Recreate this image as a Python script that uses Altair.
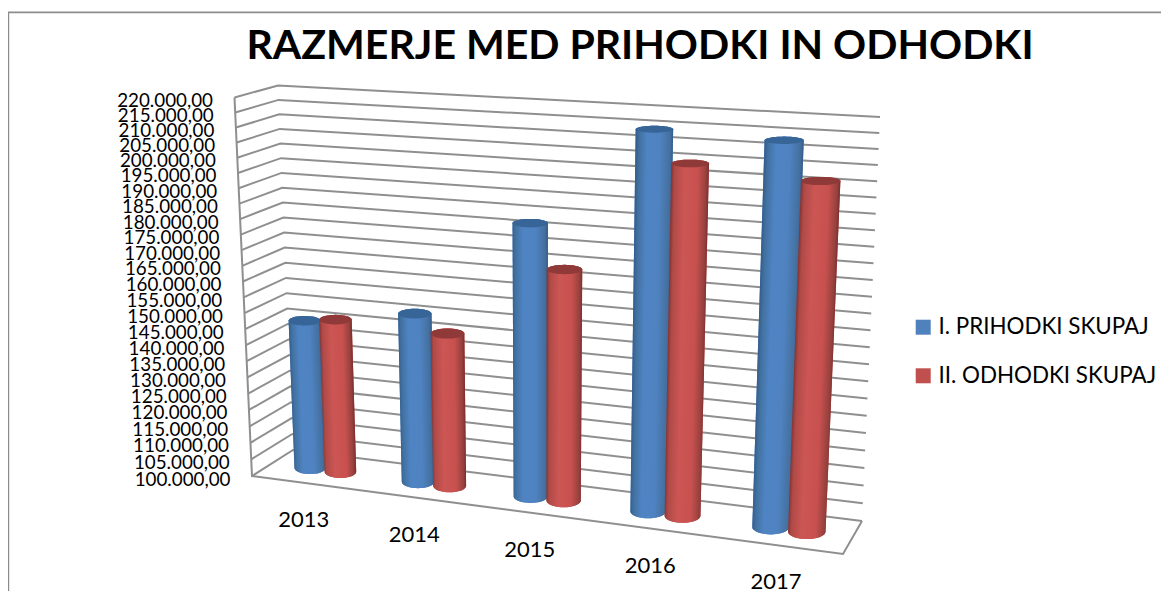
import math
import altair as alt
import pandas as pd

years = ["2013", "2014", "2015", "2016", "2017"]
prihodki = [145600, 151200, 182700, 215000, 213900]
odhodki = [146900, 146000, 169100, 204900, 202100]
series_names = ["I. PRIHODKI SKUPAJ", "II. ODHODKI SKUPAJ"]
title_text = "RAZMERJE MED PRIHODKI IN ODHODKI"
tick_values = list(range(100000, 225000, 5000))
series_colors = ["#4f81bd", "#c0504d"]
cap_colors = ["#386597", "#8f3a38"]
stops = [
    [(0, "#355f90"), (.08, "#41719f"), (.3, "#4f84c4"), (.65, "#4f82c0"), (.92, "#44709f"), (1, "#365c8c")],
    [(0, "#8a3735"), (.08, "#b04a47"), (.35, "#cc5654"), (.7, "#c8514f"), (.93, "#95403d"), (1, "#7a2f2e")],
]
W, H = 1153, 583

# 3-D box as seen by the camera: (back/front, left/right, bottom/top)
BLT, BLB, BRT, BRB = (278, 85.5), (293, 450), (880, 117), (862, 521)
FLT, FLB, FRT, FRB = (234.5, 97.5), (252, 476), (863, 134), (843, 554)
KV, KU = -0.0538, 0.1128


def tf(v):
    s = (v - 100000) / 120000
    return s / (1 + KV * (1 - s))


def uf(p):
    return p / (1 + KU * (1 - p))


def lerp(a, b, t):
    return (a[0] + (b[0] - a[0]) * t, a[1] + (b[1] - a[1]) * t)


def proj(p, w, v):
    u, t = uf(p), tf(v)
    bot = lerp(lerp(BLB, BRB, u), lerp(FLB, FRB, u), w)
    top = lerp(lerp(BLT, BRT, u), lerp(FLT, FRT, u), w)
    return lerp(bot, top, t)


def ellipse_rows(cx, cy, rx, ry, a0, a1, n=10):
    rows = []
    for i in range(n + 1):
        a = a0 + (a1 - a0) * i / n
        y = cy + ry * math.sin(a)
        hw = rx * math.cos(a)
        rows.append((y, cx - hw, cx + hw))
    return rows


def cylinder(c, k, v):
    p = (c + .5) / 5 + (-1 if k == 0 else 1) * .0285
    rp = .0295
    bl, br = proj(p - rp, .5, 100000), proj(p + rp, .5, 100000)
    tl, tr = proj(p - rp, .5, v), proj(p + rp, .5, v)
    bcx, bcy, brx = (bl[0] + br[0]) / 2, (bl[1] + br[1]) / 2, (br[0] - bl[0]) / 2
    tcx, tcy, trx = (tl[0] + tr[0]) / 2, (tl[1] + tr[1]) / 2, (tr[0] - tl[0]) / 2
    bry = brx * .40
    t = tf(v)
    try_ = trx * (.38 - .2 * t)
    body = ellipse_rows(tcx, tcy, trx, try_, -math.pi / 2, 0)
    body += ellipse_rows(bcx, bcy, brx, bry, 0, math.pi / 2)
    cap = ellipse_rows(tcx, tcy, trx, try_, -math.pi / 2, math.pi / 2, 20)
    a = (tcx - bcx) / (2 * max(trx, brx) + abs(tcx - bcx))
    return body, cap, a


XS = alt.Scale(domain=[8, 8 + W], range=[0, W], nice=False, zero=False)
YS = alt.Scale(domain=[8, 8 + H], range=[0, H], nice=False, zero=False)
X = alt.X("x:Q", scale=XS, axis=None)
Y = alt.Y("y:Q", scale=YS, axis=None)
FONT = "Lato"

# frame of the picture
frame = alt.Chart(pd.DataFrame({"x": [8.4, 8.4, 8 + W], "y": [8 + H, 12.4, 12.4], "o": [0, 1, 2]})).mark_line(
    color="#8c8c8c", strokeWidth=1.6).encode(x=X, y=Y, order="o:Q")

# walls and floor of the 3-D box
grid_rows = []
for i, v in enumerate(tick_values):
    for o, pt in enumerate([proj(0, 1, v), proj(0, 0, v), proj(1, 0, v)]):
        grid_rows.append({"x": pt[0], "y": pt[1], "g": f"g{i}", "o": o})
for o, pt in enumerate([proj(0, 1, 220000), proj(0, 1, 100000), proj(1, 1, 100000), proj(1, 0, 100000)]):
    grid_rows.append({"x": pt[0], "y": pt[1], "g": "edge", "o": o})
grid = alt.Chart(pd.DataFrame(grid_rows)).mark_line(color="#8f8f8f", strokeWidth=2).encode(
    x=X, y=Y, detail="g:N", order="o:Q")

# flat bodies carry the legend
flat_rows, layers = [], []
for c, yr in enumerate(years):
    for k, v in enumerate([prihodki[c], odhodki[c]]):
        body, cap, a = cylinder(c, k, v)
        for o, (y, x1, x2) in enumerate(body):
            flat_rows.append({"y": y, "x": x1, "x2": x2, "s": series_names[k], "cyl": f"{yr}{k}", "o": o})
        if a >= 0:
            p1 = (a, 0.0)
        else:
            p1 = (0.0, 0.0)
        lam = (1 - abs(a)) / (1 + a * a)
        grad = alt.LinearGradient(
            gradient="linear",
            stops=[alt.GradientStop(offset=o, color=col) for o, col in stops[k]],
            x1=p1[0], y1=p1[1], x2=p1[0] + lam, y2=p1[1] + lam * a,
        )
        df_b = pd.DataFrame(body, columns=["y", "x", "x2"])
        df_c = pd.DataFrame(cap, columns=["y", "x", "x2"])
        layers.append(alt.Chart(df_b).mark_area(orient="horizontal", fill=grad, interpolate="linear").encode(
            x=X, x2="x2:Q", y=Y))
        layers.append(alt.Chart(df_c).mark_area(orient="horizontal", color=cap_colors[k], interpolate="linear").encode(
            x=X, x2="x2:Q", y=Y))

flat = alt.Chart(pd.DataFrame(flat_rows)).mark_area(orient="horizontal").encode(
    x=X, x2="x2:Q", y=Y, detail="cyl:N",
    color=alt.Color("s:N", scale=alt.Scale(domain=series_names, range=series_colors),
                    legend=alt.Legend(title=None, orient="none", legendX=904, legendY=308, symbolType="square",
                                      symbolSize=225, labelFont=FONT, labelFontSize=22.4, labelColor="#000000",
                                      labelLimit=300, rowPadding=25.6, symbolStrokeWidth=0, labelOffset=4)),
)

# value labels
tick_rows = []
for v in tick_values:
    pt = proj(0, 1, v)
    s = f"{v:,.2f}".replace(",", " ").replace(".", ",").replace(" ", ".")
    tick_rows.append({"x": pt[0] - 21.5, "y": pt[1] + 3.5, "t": s})
ticks = alt.Chart(pd.DataFrame(tick_rows)).mark_text(align="right", baseline="middle", font=FONT, fontSize=18.8,
                                                     color="#000000").encode(x=X, y=Y, text="t:N")

# category labels
cat_rows = []
for c, yr in enumerate(years):
    pt = proj((c + .5) / 5, 1, 100000)
    cat_rows.append({"x": pt[0] - 2, "y": pt[1] + 37, "t": yr})
cats = alt.Chart(pd.DataFrame(cat_rows)).mark_text(align="center", baseline="middle", font=FONT, fontSize=22,
                                                   color="#000000").encode(x=X, y=Y, text="t:N")

title = alt.Chart(pd.DataFrame({"x": [640], "y": [47], "t": [title_text]})).mark_text(
    align="center", baseline="middle", font=FONT, fontSize=41, fontWeight="bold", color="#000000"
).encode(x=X, y=Y, text="t:N")

chart = alt.layer(frame, grid, flat, *layers, ticks, cats, title).properties(
    width=W, height=H, padding=0, autosize=alt.AutoSizeParams(type="none"), background="white",
).configure_view(stroke=None)

chart.save("out.html", embed_options={"renderer": "svg", "actions": False})
